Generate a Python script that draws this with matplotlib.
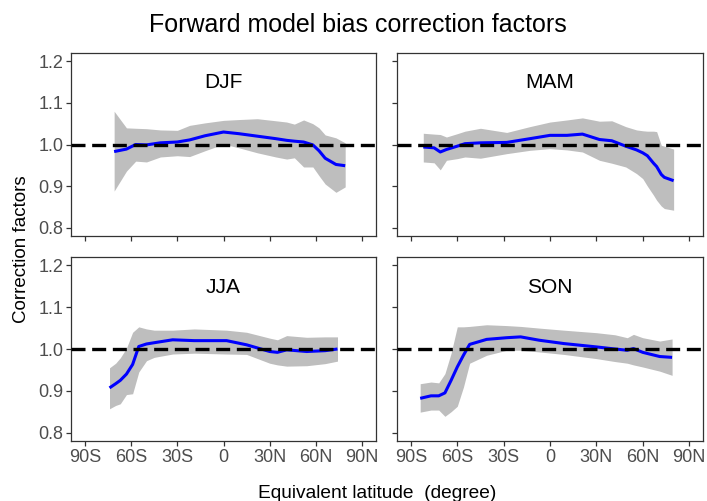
import matplotlib
matplotlib.use("Agg")
import matplotlib.pyplot as plt

plt.rcParams["font.family"] = ["Liberation Sans", "DejaVu Sans"]

# Equivalent latitude grids and correction factors (mean, upper, lower) per season
djf_lat = [-71, -63, -57, -50, -41, -30, -22, -12, 0, 10, 22, 34, 41, 46, 52, 58, 62, 66, 73, 79]
djf_mean = [0.983, 0.989, 1.000, 0.999, 1.004, 1.006, 1.011, 1.021, 1.030, 1.026,
            1.020, 1.014, 1.010, 1.008, 1.006, 0.999, 0.985, 0.967, 0.952, 0.949]
djf_upper = [1.080, 1.040, 1.039, 1.038, 1.035, 1.034, 1.046, 1.052, 1.058, 1.060,
             1.062, 1.057, 1.054, 1.049, 1.059, 1.050, 1.040, 1.023, 1.016, 1.004]
djf_lower = [0.888, 0.936, 0.960, 0.958, 0.970, 0.973, 0.971, 0.985, 1.001, 0.992,
             0.980, 0.970, 0.965, 0.968, 0.946, 0.946, 0.925, 0.905, 0.885, 0.898]

mam_lat = [-82, -75, -71, -67, -60, -55, -45, -28, -13, 0, 11, 21, 32, 40, 49, 56, 60, 63, 67, 69, 72, 74, 80]
mam_mean = [0.994, 0.992, 0.982, 0.988, 0.996, 1.002, 1.004, 1.005, 1.014, 1.022, 1.022, 1.025,
            1.012, 1.009, 0.996, 0.987, 0.980, 0.973, 0.955, 0.947, 0.928, 0.921, 0.913]
mam_upper = [1.027, 1.025, 1.024, 1.018, 1.026, 1.032, 1.039, 1.029, 1.043, 1.054, 1.059, 1.064,
             1.056, 1.057, 1.043, 1.035, 1.033, 1.032, 1.032, 1.031, 0.998, 0.996, 0.989]
mam_lower = [0.958, 0.956, 0.939, 0.962, 0.966, 0.970, 0.967, 0.978, 0.986, 0.990, 0.987, 0.982,
             0.962, 0.955, 0.946, 0.930, 0.918, 0.900, 0.878, 0.866, 0.852, 0.846, 0.842]

jja_lat = [-74, -70, -67, -63, -59, -55, -50, -45, -33, -19, 2, 15, 30, 35, 41, 54, 66, 74]
jja_mean = [0.907, 0.917, 0.925, 0.940, 0.963, 1.006, 1.012, 1.015, 1.022, 1.020, 1.020, 1.010,
            0.994, 0.992, 0.998, 0.994, 0.996, 1.000]
jja_upper = [0.955, 0.966, 0.979, 1.002, 1.040, 1.053, 1.048, 1.045, 1.045, 1.048, 1.045, 1.040,
             1.026, 1.022, 1.032, 1.028, 1.029, 1.029]
jja_lower = [0.857, 0.865, 0.869, 0.891, 0.893, 0.945, 0.972, 0.980, 0.988, 0.990, 0.988, 0.987,
             0.966, 0.962, 0.959, 0.960, 0.965, 0.971]

son_lat = [-84, -77, -72, -68, -64, -60, -56, -52, -41, -28, -19, -7, 9, 30, 42, 50, 54, 60, 71, 79]
son_mean = [0.882, 0.888, 0.888, 0.895, 0.925, 0.957, 0.985, 1.011, 1.023, 1.027, 1.029, 1.021,
            1.013, 1.005, 1.000, 0.997, 1.001, 0.992, 0.982, 0.980]
son_upper = [0.917, 0.921, 0.919, 0.941, 0.990, 1.053, 1.053, 1.054, 1.058, 1.056, 1.054, 1.050,
             1.045, 1.039, 1.034, 1.027, 1.035, 1.027, 1.019, 1.024]
son_lower = [0.849, 0.854, 0.854, 0.839, 0.850, 0.863, 0.909, 0.966, 0.985, 0.997, 0.997, 0.993,
             0.987, 0.977, 0.970, 0.966, 0.962, 0.957, 0.947, 0.937]

seasons = ["DJF", "MAM", "JJA", "SON"]
lat_ticks = [-90, -60, -30, 0, 30, 60, 90]
lat_labels = ["90S", "60S", "30S", "0", "30N", "60N", "90N"]
y_ticks = [0.8, 0.9, 1.0, 1.1, 1.2]
y_labels = ["0.8", "0.9", "1.0", "1.1", "1.2"]

panels = [
    (djf_lat, djf_mean, djf_upper, djf_lower),
    (mam_lat, mam_mean, mam_upper, mam_lower),
    (jja_lat, jja_mean, jja_upper, jja_lower),
    (son_lat, son_mean, son_upper, son_lower),
]

W, H = 707, 501
fig = plt.figure(figsize=(W / 100, H / 100), dpi=100)

# panel boxes in pixels: (left, top, right, bottom)
boxes = [(71, 53, 376, 236), (397, 53, 703, 236), (71, 257, 376, 441), (397, 257, 703, 441)]

frame_col = "#333333"
tick_col = "#4d4d4d"

for i, ((l, t, r, b), (lat, mean, up, lo)) in enumerate(zip(boxes, panels)):
    ax = fig.add_axes([l / W, (H - b) / H, (r - l) / W, (b - t) / H])
    ax.fill_between(lat, lo, up, color="#bebebe", linewidth=0, zorder=1)
    ax.plot(lat, mean, color="#0000ff", linewidth=2.2, zorder=2, solid_capstyle="butt")
    ax.axhline(1.0, color="black", linewidth=2.4, linestyle=(0, (4.2, 2.0)), zorder=3)
    ax.text(0, 1.148, seasons[i], ha="center", va="center", fontsize=15, color="black")
    ax.set_xlim(-99, 99)
    ax.set_ylim(0.78, 1.22)
    ax.set_xticks(lat_ticks)
    ax.set_yticks(y_ticks)
    if i >= 2:
        ax.set_xticklabels(lat_labels)
    else:
        ax.set_xticklabels([])
    if i % 2 == 0:
        ax.set_yticklabels(y_labels)
    else:
        ax.set_yticklabels([])
    ax.tick_params(direction="out", length=3.5, width=0.9, color=frame_col,
                   labelsize=13, labelcolor=tick_col, pad=2)
    for s in ax.spines.values():
        s.set_color(frame_col)
        s.set_linewidth(0.9)

fig.text(358 / W, 1 - 31.5 / H, "Forward model bias correction factors",
         ha="center", va="baseline", fontsize=18, color="black")
fig.text(22 / W, 1 - 249 / H, "Correction factors", ha="center", va="center",
         rotation=90, fontsize=13.5, color="black")
fig.text(377 / W, 1 - 498 / H, "Equivalent latitude  (degree)", ha="center",
         va="baseline", fontsize=13.8, color="black")

fig.savefig("out.png", dpi=100)
